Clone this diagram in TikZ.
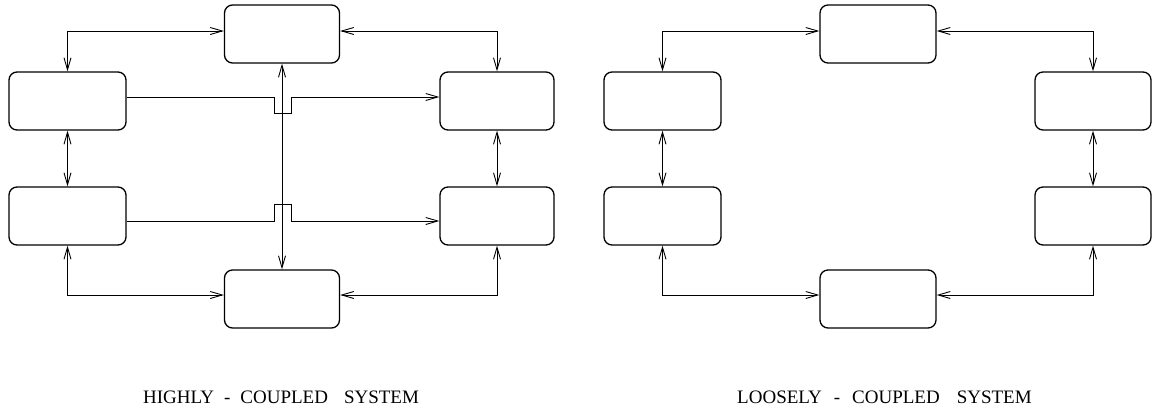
\documentclass[tikz,border=0pt]{standalone}
\usepackage{fontspec}
\setmainfont{Liberation Serif}
\usetikzlibrary{arrows.meta}
\tikzset{
  box/.style={draw, rounded corners=8pt, minimum width=115pt, minimum height=58pt, line width=1.3pt, inner sep=0pt},
  conn/.style={line width=0.9pt},
  tip/.style={Straight Barb[length=12pt,width=7pt,line width=0.9pt]},
  lab/.style={anchor=base west, inner sep=0pt, font=\fontsize{19}{22}\selectfont}
}
\begin{document}
\begin{tikzpicture}[x=1pt,y=-1pt]
\useasboundingbox (0,0) rectangle (1153,408);
% ---- highly coupled ----
\node[box] (t1) at (282,34) {};
\node[box, minimum width=117pt] (lu1) at (67.5,101) {};
\node[box, minimum width=117pt] (ll1) at (67.5,216) {};
\node[box, minimum width=114pt] (ru1) at (497,101) {};
\node[box, minimum width=114pt] (rl1) at (497,216) {};
\node[box] (b1) at (282,299) {};
\draw[conn, {Straight Barb[length=12pt,width=7pt]}-{Straight Barb[length=12pt,width=7pt]}] ([yshift=3pt]t1.west) -| (lu1.north);
\draw[conn, {Straight Barb[length=12pt,width=7pt]}-{Straight Barb[length=12pt,width=7pt]}] ([yshift=3pt]t1.east) -| (ru1.north);
\draw[conn, {Straight Barb[length=12pt,width=7pt]}-{Straight Barb[length=12pt,width=7pt]}] (lu1.south) -- (ll1.north);
\draw[conn, {Straight Barb[length=12pt,width=7pt]}-{Straight Barb[length=12pt,width=7pt]}] (ru1.south) -- (rl1.north);
\draw[conn, {Straight Barb[length=12pt,width=7pt]}-{Straight Barb[length=12pt,width=7pt]}] (ll1.south) |- ([yshift=4pt]b1.west);
\draw[conn, {Straight Barb[length=12pt,width=7pt]}-{Straight Barb[length=12pt,width=7pt]}] (rl1.south) |- ([yshift=4pt]b1.east);
\draw[conn, {Straight Barb[length=12pt,width=7pt]}-{Straight Barb[length=12pt,width=7pt]}] (t1.south) -- (b1.north);
\draw[conn, -{Straight Barb[length=12pt,width=7pt]}] ([yshift=4pt]lu1.east) -- (274,97) -- (274,113) -- (291,113) -- (291,97) -- ([yshift=4pt]ru1.west);
\draw[conn, -{Straight Barb[length=12pt,width=7pt]}] ([yshift=-5pt]ll1.east) -- (274,221) -- (274,204) -- (291,204) -- (291,221) -- ([yshift=-5pt]rl1.west);
% ---- loosely coupled ----
\node[box, minimum width=116pt] (t2) at (878,34) {};
\node[box, minimum width=117pt] (lu2) at (662.5,101) {};
\node[box, minimum width=117pt] (ll2) at (662.5,216) {};
\node[box, minimum width=116pt] (ru2) at (1093,101) {};
\node[box, minimum width=116pt] (rl2) at (1093,216) {};
\node[box, minimum width=116pt] (b2) at (878,299) {};
\draw[conn, {Straight Barb[length=12pt,width=7pt]}-{Straight Barb[length=12pt,width=7pt]}] ([yshift=3pt]t2.west) -| (lu2.north);
\draw[conn, {Straight Barb[length=12pt,width=7pt]}-{Straight Barb[length=12pt,width=7pt]}] ([yshift=3pt]t2.east) -| (ru2.north);
\draw[conn, {Straight Barb[length=12pt,width=7pt]}-{Straight Barb[length=12pt,width=7pt]}] (lu2.south) -- (ll2.north);
\draw[conn, {Straight Barb[length=12pt,width=7pt]}-{Straight Barb[length=12pt,width=7pt]}] (ru2.south) -- (rl2.north);
\draw[conn, {Straight Barb[length=12pt,width=7pt]}-{Straight Barb[length=12pt,width=7pt]}] (ll2.south) |- ([yshift=4pt]b2.west);
\draw[conn, {Straight Barb[length=12pt,width=7pt]}-{Straight Barb[length=12pt,width=7pt]}] (rl2.south) |- ([yshift=4pt]b2.east);
% ---- labels ----
\node[lab] (l1) at (143,403) {HIGHLY\hspace{10pt}-\hspace{10pt}COUPLED\hspace{16pt}SYSTEM};
\node[lab] (l2) at (737,403) {LOOSELY\hspace{12pt}-\hspace{12pt}COUPLED\hspace{17pt}SYSTEM};
\end{tikzpicture}
\end{document}
